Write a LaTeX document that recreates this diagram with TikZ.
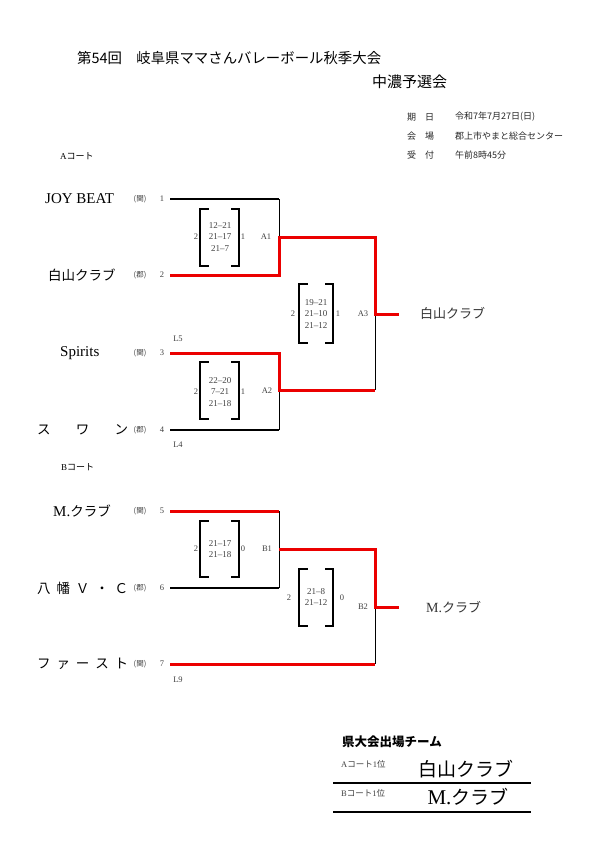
\documentclass[tikz,border=0pt]{standalone}
\usepackage{fontspec}
\setmainfont{Liberation Serif}
\newfontfamily\jp{Noto Sans CJK JP}
\definecolor{wred}{RGB}{235,0,0}
\newcommand{\fs}[1]{\fontsize{#1}{#1}\selectfont}
\newcommand{\scbr}[4]{%
  \draw[brk] (#1,#2) -- (#1,#4);
  \draw[brk] (#3,#2) -- (#3,#4);
  \draw[tck] ({#1-0.6},#2) -- ({#1+8.5},#2);
  \draw[tck] ({#1-0.6},#4) -- ({#1+8.5},#4);
  \draw[tck] ({#3+0.6},#2) -- ({#3-8.5},#2);
  \draw[tck] ({#3+0.6},#4) -- ({#3-8.5},#4);}
\begin{document}
\begin{tikzpicture}[x=1pt,y=-1pt,
  win/.style={draw=wred,line width=3pt},
  lose/.style={draw=black,line width=1.7pt},
  vthin/.style={draw=black,line width=0.9pt},
  brk/.style={draw=black,line width=1.2pt},
  tck/.style={draw=black,line width=2pt},
  lab/.style={inner sep=0pt,font=\jp\fs{7.5},text=black!75},
  num/.style={inner sep=0pt,font=\fs{8.5},text=black!75},
  score/.style={inner sep=0pt,font=\fontsize{9}{11.8}\selectfont,text=black!75,align=center},
  team/.style={inner sep=0pt,anchor=west,font=\fs{15}},
  teamjp/.style={inner sep=0pt,anchor=west,font=\jp\fs{13.5}},
  info/.style={inner sep=0pt,anchor=west,font=\jp\fs{9},text=black!85}
]
\useasboundingbox (0,0) rectangle (591,843);

% title
\node[inner sep=0pt,anchor=west,font=\jp\fs{14.4}] (title) at (77,58) {第54回　岐阜県ママさんバレーボール秋季大会};
\node[inner sep=0pt,anchor=west,font=\jp\fs{15}] (sub) at (372,82) {中濃予選会};
\node[info] (i1k) at (407,117) {期　日};
\node[info] (i1v) at (455,117) {令和7年7月27日(日)};
\node[info] (i2k) at (407,136) {会　場};
\node[info] (i2v) at (455,136) {郡上市やまと総合センター};
\node[info] (i3k) at (407,155) {受　付};
\node[info] (i3v) at (455,155) {午前8時45分};

\node[inner sep=0pt,anchor=west,font=\fs{9}] (ca) at (60,156) {A{\jp コート}};
\node[inner sep=0pt,anchor=west,font=\fs{9}] (cb) at (61,467) {B{\jp コート}};

% teams
\node[team] (t1) at (45,199) {JOY BEAT};
\node[teamjp] (t2) at (48,275) {白山クラブ};
\node[team] (t3) at (60,353) {Spirits};
\node[teamjp] (t4) at (37,430) {\makebox[91pt][s]{ス\hfill ワ\hfill ン}};
\node[team] (t5) at (53,511) {M.{\jp\fs{13.5}クラブ}};
\node[teamjp] (t6) at (37,588) {\makebox[91pt][s]{八\hfill 幡\hfill Ｖ\hfill ・\hfill Ｃ}};
\node[teamjp] (t7) at (37,664) {\makebox[91pt][s]{フ\hfill ァ\hfill ー\hfill ス\hfill ト}};

\foreach \i/\y/\c in {1/199/関,2/275/郡,3/353/関,4/430/郡,5/511/関,6/588/郡,7/664/関}{
  \node[lab] (c\i) at (140,\y) {(\c)};
  \node[num] (n\i) at (162,\y) {\i};
  \coordinate (s\i) at (170,\y);
}
\node[num] (l5) at (178,339) {L5};
\node[num] (l4) at (178,445) {L4};
\node[num] (l9) at (178,680) {L9};

% junction points
\coordinate (a1t) at (279,199);
\coordinate (a1m) at (279,237);
\coordinate (a1b) at (279,275);
\coordinate (a2t) at (279,353);
\coordinate (a2m) at (279,390);
\coordinate (a2b) at (279,430);
\coordinate (a3t) at (375,237);
\coordinate (a3m) at (375,314);
\coordinate (a3b) at (375,390);
\coordinate (a3e) at (399,314);
\coordinate (b1t) at (279,511);
\coordinate (b1m) at (279,549);
\coordinate (b1b) at (279,588);
\coordinate (b2t) at (375,549);
\coordinate (b2m) at (375,607);
\coordinate (b2b) at (375,664);
\coordinate (b2e) at (399,607);

% A court
\draw[vthin] (a1t) -- (a1m);
\draw[vthin] (a2m) -- (a2b);
\draw[vthin] (a3m) -- (a3b);
\draw[lose] (s1) -- (a1t);
\draw[lose] (s4) -- (a2b);
\draw[win] (s2) -- (a1b) -- (a1m) -- (a3t) -- (a3m) -- (a3e);
\draw[win] (s3) -- (a2t) -- (a2m) -- (a3b);

% B court
\draw[vthin] (b1t) -- (b1b);
\draw[vthin] (b2m) -- (b2b);
\draw[lose] (s6) -- (b1b);
\draw[win] (s5) -- (b1t);
\draw[win] (b1m) -- (b2t) -- (b2m) -- (b2e);
\draw[win] (s7) -- (b2b);

% match labels
\node[num] (ma1) at (266,237) {A1};
\node[num] (ma2) at (267,391) {A2};
\node[num] (ma3) at (363,314) {A3};
\node[num] (mb1) at (267,549) {B1};
\node[num] (mb2) at (363,607) {B2};

% score brackets
\scbr{200}{209}{239}{266}
\node[score] (sa1) at (220,237) {12–21\\21–17\\21–7};
\node[num] (sa1l) at (196,237) {2};
\node[num] (sa1r) at (243,237) {1};

\scbr{200}{362}{239}{419}
\node[score] (sa2) at (220,392) {22–20\\7–21\\21–18};
\node[num] (sa2l) at (196,392) {2};
\node[num] (sa2r) at (243,392) {1};

\scbr{299}{284}{333}{343}
\node[score] (sa3) at (316,314) {19–21\\21–10\\21–12};
\node[num] (sa3l) at (293,314) {2};
\node[num] (sa3r) at (338,314) {1};

\scbr{200}{521}{239}{577}
\node[score] (sb1) at (220,549) {21–17\\21–18};
\node[num] (sb1l) at (196,549) {2};
\node[num] (sb1r) at (243,549) {0};

\scbr{299}{569}{333}{626}
\node[score] (sb2) at (316,597) {21–8\\21–12};
\node[num] (sb2l) at (289,598) {2};
\node[num] (sb2r) at (342,598) {0};

% winners
\node[teamjp,font=\jp\fs{13},text=black!80] (wa) at (420,313) {白山クラブ};
\node[team,font=\fs{14},text=black!80] (wb) at (426,607) {M.{\jp\fs{13}クラブ}};

% qualified teams
\node[inner sep=0pt,anchor=west,font=\jp\bfseries\fs{12.5}] (qt) at (342,742) {県大会出場チーム};
\node[inner sep=0pt,anchor=west,font=\fs{8.5},text=black!75] (qa) at (341,764) {A{\jp コート}1{\jp 位}};
\node[inner sep=0pt,anchor=west,font=\fs{8.5},text=black!75] (qb) at (341,793) {B{\jp コート}1{\jp 位}};
\node[inner sep=0pt,font=\jp\fs{19}] (qaw) at (466,769) {白山クラブ};
\node[inner sep=0pt,font=\fs{21}] (qbw) at (468,797) {M.{\jp\fs{19}クラブ}};
\coordinate (u1a) at (333,783);
\coordinate (u1b) at (531,783);
\coordinate (u2a) at (333,812);
\coordinate (u2b) at (531,812);
\draw[line width=2.4pt] (u1a) -- (u1b);
\draw[line width=2.4pt] (u2a) -- (u2b);
\end{tikzpicture}
\end{document}
